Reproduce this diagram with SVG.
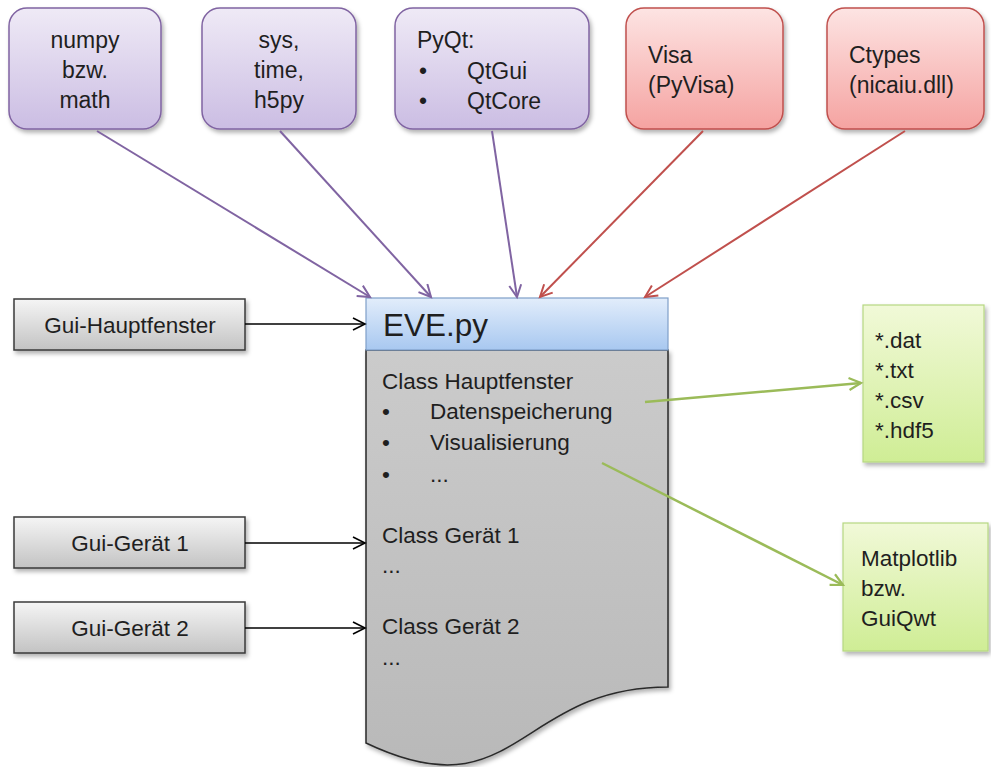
<svg xmlns="http://www.w3.org/2000/svg" width="991" height="767" viewBox="0 0 991 767">
<defs>
<linearGradient id="gPurple" x1="0" y1="0" x2="0" y2="1"><stop offset="0" stop-color="#efeaf6"/><stop offset="1" stop-color="#cbbde3"/></linearGradient>
<linearGradient id="gRed" x1="0" y1="0" x2="0" y2="1"><stop offset="0" stop-color="#fde4e3"/><stop offset="1" stop-color="#f5a3a1"/></linearGradient>
<linearGradient id="gGreen" x1="0" y1="0" x2="0" y2="1"><stop offset="0" stop-color="#f1f9d8"/><stop offset="1" stop-color="#cfed95"/></linearGradient>
<linearGradient id="gGrey" x1="0" y1="0" x2="0" y2="1"><stop offset="0" stop-color="#f5f5f5"/><stop offset="1" stop-color="#c3c3c3"/></linearGradient>
<linearGradient id="gBlue" x1="0" y1="0" x2="0" y2="1"><stop offset="0" stop-color="#e2edfb"/><stop offset="1" stop-color="#a8c8f0"/></linearGradient>
<linearGradient id="gBody" x1="0" y1="0" x2="0" y2="1"><stop offset="0" stop-color="#cbcbcb"/><stop offset="1" stop-color="#b9b9b9"/></linearGradient>
<filter id="shadow" x="-10%" y="-10%" width="130%" height="130%"><feDropShadow dx="2" dy="3" stdDeviation="2" flood-color="#000" flood-opacity="0.3"/></filter>
<marker id="mPurple" markerUnits="userSpaceOnUse" markerWidth="16" markerHeight="16" refX="13" refY="7" orient="auto"><path d="M1,1 L13,7 L1,13" fill="none" stroke="#8064a2" stroke-width="2"/></marker>
<marker id="mRed" markerUnits="userSpaceOnUse" markerWidth="16" markerHeight="16" refX="13" refY="7" orient="auto"><path d="M1,1 L13,7 L1,13" fill="none" stroke="#c0504d" stroke-width="2"/></marker>
<marker id="mGreen" markerUnits="userSpaceOnUse" markerWidth="16" markerHeight="16" refX="13" refY="7" orient="auto"><path d="M1,1 L13,7 L1,13" fill="none" stroke="#9bbb59" stroke-width="2.2"/></marker>
<marker id="mBlack" markerUnits="userSpaceOnUse" markerWidth="16" markerHeight="16" refX="13" refY="7" orient="auto"><path d="M1,1 L13,7 L1,13" fill="none" stroke="#000" stroke-width="1.6"/></marker>
</defs>
<style>
text{font-family:"Liberation Sans",Arial,sans-serif;font-size:22.5px;fill:#1f1f1f}
.top{font-size:23px}
.c{text-anchor:middle}
.purple{fill:url(#gPurple);stroke:#8064a2;stroke-width:1.5;filter:url(#shadow)}
.red{fill:url(#gRed);stroke:#c0504d;stroke-width:1.5;filter:url(#shadow)}
.green{fill:url(#gGreen);stroke:#b6d782;stroke-width:1.2;filter:url(#shadow)}
.grey{fill:url(#gGrey);stroke:#3a3a3a;stroke-width:1.5;filter:url(#shadow)}
.cp{fill:none;stroke:#8064a2;stroke-width:2;marker-end:url(#mPurple)}
.cr{fill:none;stroke:#c0504d;stroke-width:2;marker-end:url(#mRed)}
.cg{fill:none;stroke:#9bbb59;stroke-width:2.5;marker-end:url(#mGreen)}
.cb{fill:none;stroke:#000;stroke-width:1.6;marker-end:url(#mBlack)}
</style>
<rect width="991" height="767" fill="#fff"/>

<g id="numpy">
<rect class="purple" x="9" y="8" width="152" height="121" rx="18"/>
<text class="top c" x="85" y="48">numpy</text>
<text class="top c" x="85" y="78">bzw.</text>
<text class="top c" x="85" y="108">math</text>
</g>
<g id="sys">
<rect class="purple" x="202" y="8" width="154" height="121" rx="18"/>
<text class="top c" x="279" y="48">sys,</text>
<text class="top c" x="279" y="78">time,</text>
<text class="top c" x="279" y="108">h5py</text>
</g>
<g id="pyqt">
<rect class="purple" x="395" y="8" width="194" height="121" rx="18"/>
<text class="top" x="417" y="48">PyQt:</text>
<text class="top" x="419" y="79">•</text>
<text class="top" x="467" y="79">QtGui</text>
<text class="top" x="419" y="109">•</text>
<text class="top" x="467" y="109">QtCore</text>
</g>
<g id="visa">
<rect class="red" x="626" y="8" width="157" height="121" rx="18"/>
<text class="top" x="648" y="63">Visa</text>
<text class="top" x="648" y="93">(PyVisa)</text>
</g>
<g id="ctypes">
<rect class="red" x="827" y="8" width="157" height="121" rx="18"/>
<text class="top" x="849" y="63">Ctypes</text>
<text class="top" x="849" y="93">(nicaiu.dll)</text>
</g>

<g id="eve">
<path d="M366,350 L668,350 L668,687 C517,687 517,815 366,743 Z" fill="url(#gBody)" stroke="#2a2a2a" stroke-width="1.5" filter="url(#shadow)"/>
<rect x="366" y="298" width="302" height="52" fill="url(#gBlue)" stroke="#7f9fc8" stroke-width="1.2"/>
<text x="383" y="336" style="font-size:31.5px" fill="#111">EVE.py</text>
<text x="382" y="389">Class Hauptfenster</text>
<text x="382" y="419">•</text>
<text x="430" y="419">Datenspeicherung</text>
<text x="382" y="450">•</text>
<text x="430" y="450">Visualisierung</text>
<text x="382" y="482">•</text>
<text x="430" y="482">...</text>
<text x="382" y="543">Class Gerät 1</text>
<text x="382" y="573">...</text>
<text x="382" y="634">Class Gerät 2</text>
<text x="382" y="665">...</text>
</g>

<g id="gui-haupt">
<rect class="grey" x="14" y="299" width="231" height="51"/>
<text class="c" x="130" y="333">Gui-Hauptfenster</text>
</g>
<g id="gui-geraet1">
<rect class="grey" x="14" y="517" width="231" height="51"/>
<text class="c" x="130" y="551">Gui-Gerät 1</text>
</g>
<g id="gui-geraet2">
<rect class="grey" x="14" y="602" width="231" height="51"/>
<text class="c" x="130" y="636">Gui-Gerät 2</text>
</g>

<g id="files">
<rect class="green" x="863" y="305" width="121" height="157"/>
<text x="875" y="348">*.dat</text>
<text x="875" y="378">*.txt</text>
<text x="875" y="408">*.csv</text>
<text x="875" y="438">*.hdf5</text>
</g>
<g id="matplotlib">
<rect class="green" x="843" y="523" width="145" height="128"/>
<text x="861" y="566">Matplotlib</text>
<text x="861" y="596">bzw.</text>
<text x="861" y="626">GuiQwt</text>
</g>

<g id="connectors">
<line class="cp" x1="97" y1="131" x2="370" y2="297"/>
<line class="cp" x1="280" y1="131" x2="431" y2="297"/>
<line class="cp" x1="492" y1="131" x2="517" y2="297"/>
<line class="cr" x1="703" y1="131" x2="540" y2="297"/>
<line class="cr" x1="905" y1="131" x2="645" y2="297"/>
<line class="cb" x1="245" y1="324" x2="365" y2="324"/>
<line class="cb" x1="245" y1="543" x2="365" y2="543"/>
<line class="cb" x1="245" y1="628" x2="365" y2="628"/>
<line class="cg" x1="645" y1="402" x2="861" y2="383"/>
<line class="cg" x1="602" y1="463" x2="843" y2="585"/>
</g>
</svg>
